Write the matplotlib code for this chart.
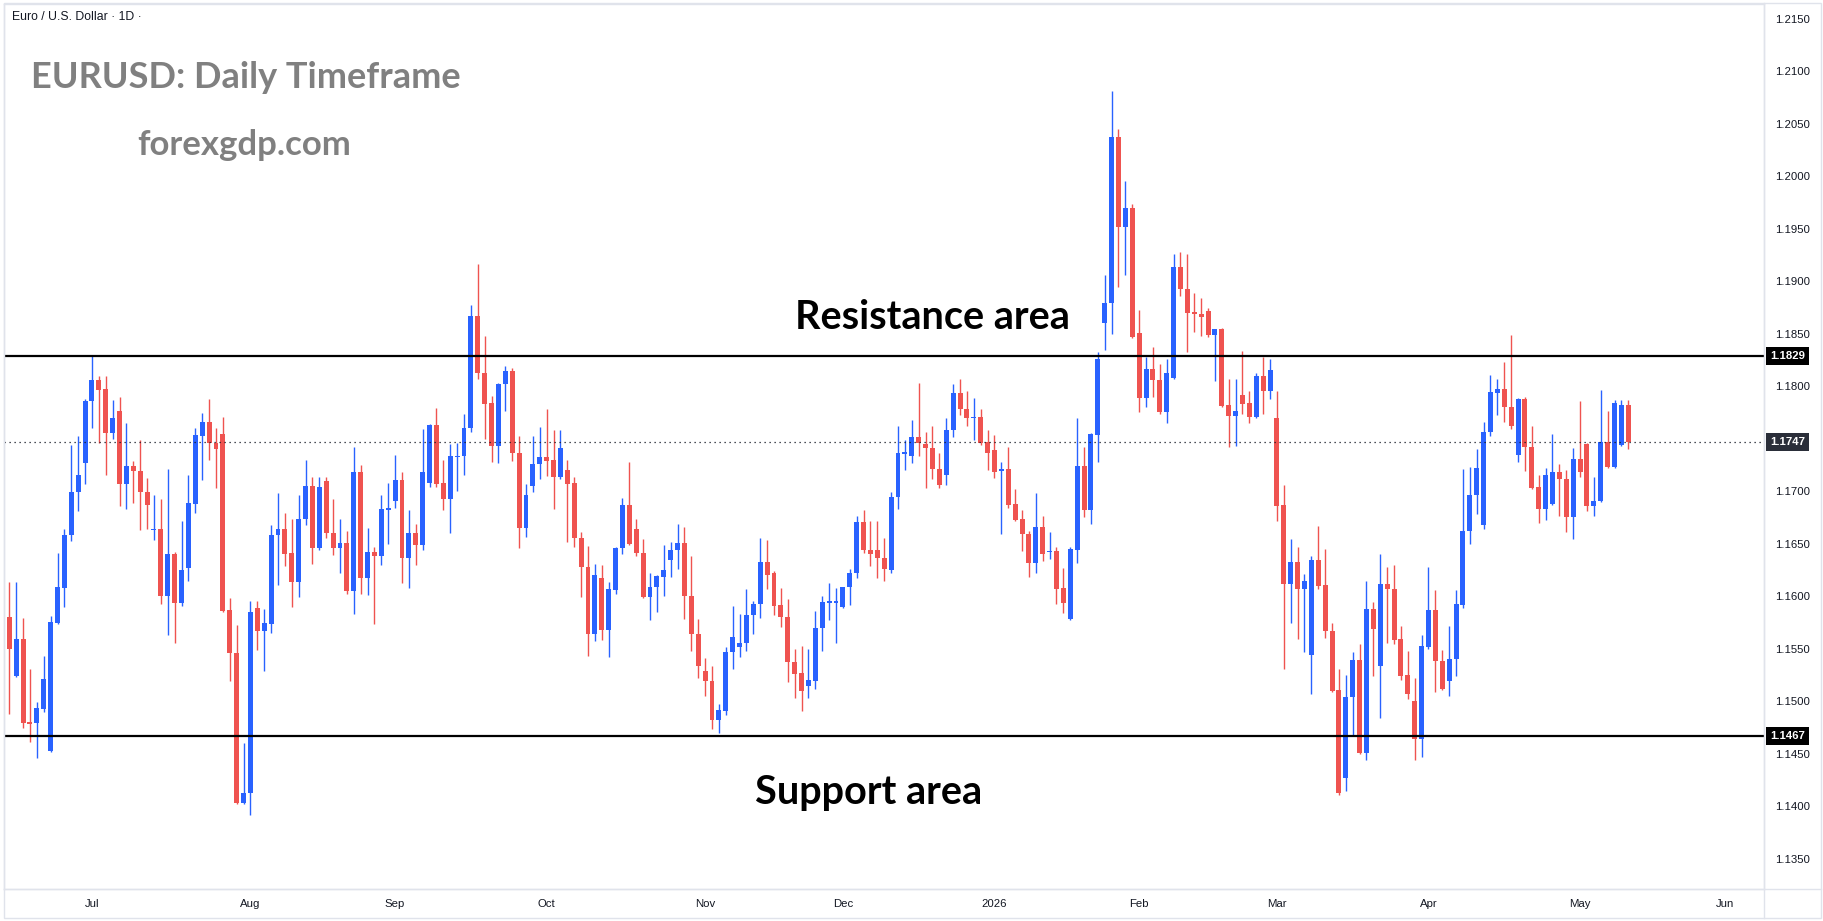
import matplotlib
matplotlib.use("Agg")
import matplotlib.pyplot as plt
from matplotlib.lines import Line2D
from matplotlib.patches import Rectangle
import numpy as np
import pandas as pd

W, H = 1823, 921

# daily EURUSD candles, 2025-06-12 .. 2026-05-12
opens = [
    1.1488, 1.1580, 1.1524, 1.1559, 1.1480, 1.1479, 1.1493, 1.1453, 1.1575, 1.1608,
    1.1658, 1.1699, 1.1727, 1.1786, 1.1806, 1.1798, 1.1756, 1.1777, 1.1707, 1.1724,
    1.1719, 1.1699, 1.1663, 1.1664, 1.1600, 1.1640, 1.1594, 1.1627, 1.1688, 1.1753,
    1.1766, 1.1746, 1.1755, 1.1587, 1.1546, 1.1403, 1.1413, 1.1589, 1.1567, 1.1574,
    1.1658, 1.1664, 1.1641, 1.1614, 1.1674, 1.1705, 1.1646, 1.1710, 1.1660, 1.1646,
    1.1651, 1.1605, 1.1718, 1.1617, 1.1642, 1.1638, 1.1682, 1.1691, 1.1711, 1.1637,
    1.1660, 1.1649, 1.1708, 1.1763, 1.1708, 1.1693, 1.1733, 1.1734, 1.1760, 1.1867,
    1.1813, 1.1784, 1.1743, 1.1802, 1.1815, 1.1737, 1.1665, 1.1705, 1.1726, 1.1733,
    1.1730, 1.1714, 1.1720, 1.1708, 1.1656, 1.1628, 1.1564, 1.1617, 1.1568, 1.1606,
    1.1646, 1.1687, 1.1664, 1.1641, 1.1599, 1.1609, 1.1618, 1.1635, 1.1644, 1.1651,
    1.1600, 1.1564, 1.1529, 1.1519, 1.1482, 1.1491, 1.1547, 1.1552, 1.1556, 1.1582,
    1.1593, 1.1633, 1.1622, 1.1592, 1.1580, 1.1537, 1.1527, 1.1515, 1.1519, 1.1570,
    1.1594, 1.1594, 1.1590, 1.1609, 1.1622, 1.1671, 1.1644, 1.1644, 1.1637, 1.1625,
    1.1695, 1.1736, 1.1734, 1.1752, 1.1745, 1.1741, 1.1721, 1.1716, 1.1758, 1.1794,
    1.1778, 1.1770, 1.1771, 1.1747, 1.1739, 1.1720, 1.1721, 1.1688, 1.1674, 1.1659,
    1.1632, 1.1666, 1.1642, 1.1643, 1.1608, 1.1578, 1.1644, 1.1724, 1.1682, 1.1754,
    1.1860, 1.1879, 1.2038, 1.1952, 1.1970, 1.1851, 1.1789, 1.1817, 1.1806, 1.1776,
    1.1808, 1.1914, 1.1893, 1.1871, 1.1869, 1.1872, 1.1849, 1.1855, 1.1782, 1.1772,
    1.1792, 1.1784, 1.1771, 1.1810, 1.1796, 1.1770, 1.1687, 1.1612, 1.1633, 1.1607,
    1.1544, 1.1635, 1.1611, 1.1567, 1.1511, 1.1427, 1.1504, 1.1539, 1.1451, 1.1588,
    1.1534, 1.1612, 1.1607, 1.1559, 1.1525, 1.1500, 1.1464, 1.1552, 1.1587, 1.1538,
    1.1519, 1.1540, 1.1592, 1.1662, 1.1697, 1.1668, 1.1757, 1.1794, 1.1798, 1.1780,
    1.1735, 1.1788, 1.1742, 1.1704, 1.1683, 1.1688, 1.1718, 1.1712, 1.1676, 1.1731,
    1.1745, 1.1686, 1.1691, 1.1747, 1.1723, 1.1744, 1.1782,
]
highs = [
    1.1585, 1.1614, 1.1614, 1.1579, 1.1531, 1.1499, 1.1543, 1.1581, 1.1641, 1.1664,
    1.1744, 1.1753, 1.1788, 1.1830, 1.1810, 1.1810, 1.1787, 1.1790, 1.1765, 1.1729,
    1.1749, 1.1713, 1.1697, 1.1693, 1.1721, 1.1642, 1.1672, 1.1716, 1.1760, 1.1775,
    1.1788, 1.1760, 1.1771, 1.1598, 1.1573, 1.1460, 1.1596, 1.1596, 1.1588, 1.1668,
    1.1698, 1.1679, 1.1674, 1.1697, 1.1730, 1.1714, 1.1714, 1.1714, 1.1693, 1.1674,
    1.1662, 1.1742, 1.1725, 1.1665, 1.1647, 1.1697, 1.1708, 1.1735, 1.1718, 1.1682,
    1.1669, 1.1759, 1.1764, 1.1779, 1.1730, 1.1745, 1.1746, 1.1774, 1.1878, 1.1917,
    1.1848, 1.1791, 1.1803, 1.1819, 1.1818, 1.1753, 1.1707, 1.1753, 1.1761, 1.1778,
    1.1758, 1.1758, 1.1730, 1.1714, 1.1661, 1.1648, 1.1631, 1.1630, 1.1614, 1.1647,
    1.1694, 1.1728, 1.1674, 1.1655, 1.1622, 1.1620, 1.1649, 1.1652, 1.1669, 1.1666,
    1.1638, 1.1578, 1.1541, 1.1534, 1.1497, 1.1552, 1.1591, 1.1583, 1.1607, 1.1596,
    1.1656, 1.1654, 1.1624, 1.1608, 1.1597, 1.1550, 1.1553, 1.1550, 1.1586, 1.1600,
    1.1613, 1.1608, 1.1609, 1.1626, 1.1677, 1.1682, 1.1672, 1.1672, 1.1656, 1.1699,
    1.1762, 1.1749, 1.1768, 1.1803, 1.1757, 1.1762, 1.1737, 1.1770, 1.1802, 1.1807,
    1.1796, 1.1789, 1.1778, 1.1758, 1.1754, 1.1728, 1.1742, 1.1702, 1.1682, 1.1662,
    1.1698, 1.1677, 1.1661, 1.1647, 1.1627, 1.1647, 1.1770, 1.1742, 1.1756, 1.1833,
    1.1906, 1.2081, 1.2045, 1.1996, 1.1974, 1.1873, 1.1828, 1.1838, 1.1821, 1.1826,
    1.1926, 1.1928, 1.1926, 1.1889, 1.1884, 1.1875, 1.1855, 1.1856, 1.1807, 1.1807,
    1.1834, 1.1796, 1.1813, 1.1828, 1.1826, 1.1796, 1.1706, 1.1655, 1.1647, 1.1621,
    1.1638, 1.1667, 1.1645, 1.1575, 1.1531, 1.1525, 1.1547, 1.1555, 1.1615, 1.1595,
    1.1640, 1.1628, 1.1630, 1.1572, 1.1548, 1.1522, 1.1563, 1.1628, 1.1606, 1.1549,
    1.1572, 1.1606, 1.1721, 1.1723, 1.1740, 1.1766, 1.1811, 1.1807, 1.1823, 1.1849,
    1.1789, 1.1790, 1.1762, 1.1716, 1.1722, 1.1755, 1.1726, 1.1720, 1.1741, 1.1786,
    1.1746, 1.1714, 1.1797, 1.1777, 1.1787, 1.1787, 1.1787,
]
lows = [
    1.1484, 1.1488, 1.1523, 1.1475, 1.1461, 1.1446, 1.1490, 1.1452, 1.1574, 1.1590,
    1.1653, 1.1681, 1.1707, 1.1760, 1.1746, 1.1716, 1.1750, 1.1686, 1.1683, 1.1689,
    1.1663, 1.1664, 1.1654, 1.1593, 1.1563, 1.1556, 1.1591, 1.1615, 1.1679, 1.1711,
    1.1730, 1.1703, 1.1585, 1.1519, 1.1402, 1.1402, 1.1392, 1.1549, 1.1529, 1.1565,
    1.1611, 1.1629, 1.1590, 1.1599, 1.1668, 1.1631, 1.1644, 1.1656, 1.1639, 1.1622,
    1.1602, 1.1583, 1.1602, 1.1601, 1.1574, 1.1630, 1.1650, 1.1684, 1.1613, 1.1608,
    1.1630, 1.1644, 1.1704, 1.1704, 1.1682, 1.1660, 1.1700, 1.1716, 1.1757, 1.1807,
    1.1750, 1.1728, 1.1727, 1.1777, 1.1729, 1.1646, 1.1657, 1.1699, 1.1712, 1.1715,
    1.1683, 1.1712, 1.1652, 1.1647, 1.1599, 1.1543, 1.1557, 1.1558, 1.1542, 1.1602,
    1.1640, 1.1649, 1.1638, 1.1598, 1.1577, 1.1585, 1.1600, 1.1618, 1.1626, 1.1578,
    1.1548, 1.1522, 1.1505, 1.1474, 1.1470, 1.1487, 1.1531, 1.1542, 1.1548, 1.1564,
    1.1579, 1.1607, 1.1582, 1.1571, 1.1518, 1.1503, 1.1491, 1.1503, 1.1512, 1.1548,
    1.1577, 1.1556, 1.1589, 1.1592, 1.1617, 1.1641, 1.1629, 1.1617, 1.1615, 1.1622,
    1.1683, 1.1720, 1.1727, 1.1734, 1.1703, 1.1712, 1.1703, 1.1706, 1.1752, 1.1773,
    1.1762, 1.1749, 1.1744, 1.1720, 1.1713, 1.1659, 1.1684, 1.1672, 1.1643, 1.1618,
    1.1622, 1.1634, 1.1636, 1.1593, 1.1584, 1.1577, 1.1632, 1.1676, 1.1669, 1.1728,
    1.1835, 1.1850, 1.1895, 1.1906, 1.1846, 1.1776, 1.1780, 1.1790, 1.1774, 1.1765,
    1.1807, 1.1886, 1.1833, 1.1852, 1.1848, 1.1847, 1.1805, 1.1780, 1.1742, 1.1743,
    1.1774, 1.1765, 1.1770, 1.1774, 1.1788, 1.1672, 1.1531, 1.1575, 1.1559, 1.1547,
    1.1507, 1.1607, 1.1560, 1.1509, 1.1411, 1.1415, 1.1467, 1.1450, 1.1444, 1.1524,
    1.1484, 1.1556, 1.1555, 1.1520, 1.1502, 1.1444, 1.1447, 1.1550, 1.1509, 1.1511,
    1.1505, 1.1524, 1.1589, 1.1650, 1.1678, 1.1664, 1.1753, 1.1773, 1.1766, 1.1759,
    1.1728, 1.1719, 1.1702, 1.1670, 1.1673, 1.1687, 1.1677, 1.1661, 1.1655, 1.1714,
    1.1681, 1.1677, 1.1690, 1.1722, 1.1722, 1.1743, 1.1740,
]
closes = [
    1.1580, 1.1550, 1.1559, 1.1479, 1.1478, 1.1494, 1.1521, 1.1576, 1.1609, 1.1658,
    1.1699, 1.1716, 1.1786, 1.1806, 1.1797, 1.1756, 1.1770, 1.1707, 1.1724, 1.1719,
    1.1699, 1.1687, 1.1664, 1.1600, 1.1640, 1.1594, 1.1625, 1.1689, 1.1754, 1.1766,
    1.1746, 1.1740, 1.1586, 1.1546, 1.1403, 1.1413, 1.1585, 1.1567, 1.1575, 1.1658,
    1.1664, 1.1640, 1.1614, 1.1674, 1.1705, 1.1646, 1.1704, 1.1660, 1.1646, 1.1651,
    1.1605, 1.1718, 1.1617, 1.1642, 1.1638, 1.1683, 1.1684, 1.1711, 1.1637, 1.1660,
    1.1649, 1.1718, 1.1763, 1.1707, 1.1693, 1.1734, 1.1734, 1.1760, 1.1867, 1.1813,
    1.1783, 1.1743, 1.1802, 1.1815, 1.1737, 1.1665, 1.1697, 1.1726, 1.1733, 1.1729,
    1.1714, 1.1741, 1.1707, 1.1656, 1.1628, 1.1564, 1.1620, 1.1568, 1.1607, 1.1646,
    1.1687, 1.1650, 1.1641, 1.1599, 1.1609, 1.1619, 1.1625, 1.1644, 1.1651, 1.1600,
    1.1564, 1.1534, 1.1519, 1.1482, 1.1492, 1.1547, 1.1561, 1.1556, 1.1582, 1.1593,
    1.1633, 1.1620, 1.1591, 1.1580, 1.1537, 1.1526, 1.1510, 1.1520, 1.1570, 1.1595,
    1.1595, 1.1595, 1.1609, 1.1622, 1.1671, 1.1644, 1.1640, 1.1637, 1.1626, 1.1695,
    1.1737, 1.1737, 1.1752, 1.1746, 1.1741, 1.1721, 1.1706, 1.1758, 1.1794, 1.1778,
    1.1770, 1.1771, 1.1746, 1.1737, 1.1718, 1.1721, 1.1687, 1.1673, 1.1659, 1.1632,
    1.1666, 1.1640, 1.1643, 1.1607, 1.1594, 1.1645, 1.1724, 1.1682, 1.1755, 1.1826,
    1.1879, 1.2038, 1.1952, 1.1970, 1.1847, 1.1789, 1.1817, 1.1806, 1.1776, 1.1813,
    1.1914, 1.1893, 1.1870, 1.1869, 1.1866, 1.1849, 1.1855, 1.1781, 1.1772, 1.1777,
    1.1783, 1.1771, 1.1810, 1.1796, 1.1816, 1.1686, 1.1612, 1.1633, 1.1607, 1.1615,
    1.1635, 1.1610, 1.1567, 1.1510, 1.1413, 1.1504, 1.1539, 1.1451, 1.1588, 1.1569,
    1.1612, 1.1607, 1.1558, 1.1524, 1.1507, 1.1464, 1.1553, 1.1587, 1.1538, 1.1512,
    1.1540, 1.1593, 1.1662, 1.1697, 1.1722, 1.1757, 1.1795, 1.1798, 1.1780, 1.1762,
    1.1788, 1.1742, 1.1703, 1.1683, 1.1716, 1.1718, 1.1712, 1.1676, 1.1731, 1.1718,
    1.1686, 1.1691, 1.1747, 1.1723, 1.1784, 1.1782, 1.1747,
]

resistance = 1.1829
support = 1.1467
last_price = 1.1747

holidays = ["2025-12-25", "2026-01-01"]

BLUE = "#2962ff"
RED = "#ef5350"
TEXT = "#131722"
BORDER = "#e0e3eb"
GRAY = "#808080"

# trading days (weekdays minus the two holidays the feed skips), run on into June for the axis
days = pd.bdate_range("2025-06-12", "2026-06-30")
days = days[~days.isin(pd.to_datetime(holidays))]

o = np.array(opens)
c = np.array(closes)
hi = np.array(highs)
lo = np.array(lows)
x = np.arange(len(o))
colors = np.where(c >= o, BLUE, RED)

fig = plt.figure(figsize=(W / 100, H / 100), dpi=100)
fig.patch.set_facecolor("white")


def px(xp, yp):
    return xp / W, 1 - yp / H


ax = fig.add_axes([4 / W, (H - 889) / H, (1764 - 4) / W, (889 - 4) / H])
ax.set_facecolor("white")

# candles
ax.vlines(x, lo, hi, colors=colors, linewidth=1.0, zorder=2)
body_h = np.abs(c - o)
min_h = 0.00013
body_lo = np.where(body_h < min_h, (o + c) / 2 - min_h / 2, np.minimum(o, c))
body_h = np.maximum(body_h, min_h)
ax.bar(x, body_h, bottom=body_lo, width=0.72, color=colors, linewidth=0, zorder=2)

# levels
ax.axhline(resistance, color="black", linewidth=1.6, zorder=3)
ax.axhline(support, color="black", linewidth=1.6, zorder=3)
ax.axhline(last_price, color=TEXT, linewidth=0.9, linestyle=(0, (1, 3)), zorder=3)

ax.set_xlim(0.23, 255.7)
ax.set_ylim(1.13212, 1.21643)

# price axis on the right; the scale hides a label that sits under the last-price box
yt = np.arange(1.135, 1.2151, 0.005)
ylabs = ["" if abs(v - last_price) < 0.0008 else f"{v:.4f}" for v in yt]
ax.yaxis.tick_right()
ax.set_yticks(yt)
ax.set_yticklabels(ylabs, fontsize=8.2, color=TEXT, family="Liberation Sans")
ax.tick_params(axis="y", length=0, pad=8)

# month labels
pos, labs = [], []
for i in range(1, len(days)):
    if days[i].month != days[i - 1].month:
        pos.append(i)
        labs.append(str(days[i].year) if days[i].month == 1 else days[i].strftime("%b"))
ax.set_xticks(pos)
ax.set_xticklabels(labs, fontsize=8.2, color=TEXT, family="Liberation Sans")
ax.tick_params(axis="x", length=0, pad=7)

for s in ax.spines.values():
    s.set_color(BORDER)
    s.set_linewidth(1)

# level boxes on the price scale
tr = ax.get_yaxis_transform()
for val, fc in [(resistance, "black"), (support, "black"), (last_price, "#2a2e39")]:
    ax.text(1 + 6 / 1760, val, f"{val:.4f}", transform=tr, ha="left", va="center",
            fontsize=8.2, fontweight="bold", color="white", family="Liberation Sans",
            bbox=dict(boxstyle="square,pad=0.35", fc=fc, ec="none"), zorder=5, clip_on=False)

# frame around the widget
fig.add_artist(Rectangle(px(4, 918), (1821 - 4) / W, (918 - 3) / H, transform=fig.transFigure,
                         fill=False, edgecolor=BORDER, linewidth=1))
fig.add_artist(Line2D([1764 / W, 1764 / W], [1 - 3 / H, 1 - 918 / H], transform=fig.transFigure,
                      color=BORDER, linewidth=1))
fig.add_artist(Line2D([4 / W, 1821 / W], [1 - 889 / H, 1 - 889 / H], transform=fig.transFigure,
                      color=BORDER, linewidth=1))

# texts
fig.text(*px(12, 17.5), "Euro / U.S. Dollar \u00b7 1D \u00b7", fontsize=8.8, color=TEXT,
         family="Liberation Sans", va="center", ha="left")
fig.text(*px(31, 88), "EURUSD: Daily Timeframe", fontsize=26, fontweight="bold",
         color=GRAY, family="Lato", va="baseline", ha="left")
fig.text(*px(137, 155), "forexgdp.com", fontsize=25, fontweight="bold",
         color=GRAY, family="Lato", va="baseline", ha="left")
fig.text(*px(932, 329), "Resistance area", fontsize=28.5, fontweight="bold",
         color="black", family="Lato", va="baseline", ha="center")
fig.text(*px(869, 804), "Support area", fontsize=28.5, fontweight="bold",
         color="black", family="Lato", va="baseline", ha="center")

fig.savefig("out.png", dpi=100, facecolor="white")
